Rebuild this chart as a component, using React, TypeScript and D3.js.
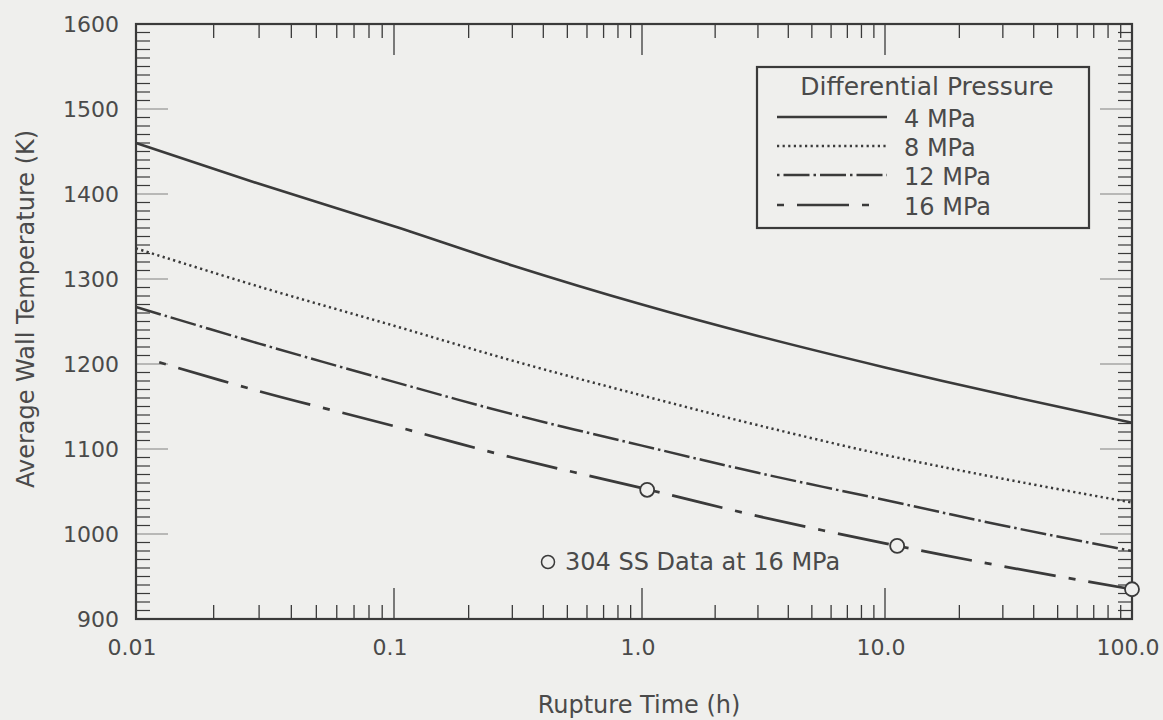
import React from "react";
import * as d3 from "d3";

const W = 1163;
const H = 720;

// Rupture time (h) sample points and temperatures (K) per differential pressure
const times = [0.01, 0.03, 0.1, 0.3, 1, 3, 10, 30, 100];
const temp4MPa = [1460, 1412, 1362, 1316, 1270, 1233, 1196, 1164, 1131];
const temp8MPa = [1336, 1291, 1245, 1204, 1163, 1128, 1093, 1065, 1037];
const temp12MPa = [1267, 1224, 1179, 1141, 1104, 1072, 1040, 1010, 980];
const times16 = [0.0123, 0.03, 0.1, 0.3, 1, 3, 10, 30, 100];
const temp16MPa = [1202, 1168, 1127, 1090, 1054, 1021, 989, 962, 935];

// 304 SS data at 16 MPa
const dataTimes = [1.05, 11.2, 100];
const dataTemps = [1052, 986, 935];

const xMajorTicks = [0.01, 0.1, 1, 10, 100];
const xTickLabels = ["0.01", "0.1", "1.0", "10.0", "100.0"];
const yMajorTicks = [900, 1000, 1100, 1200, 1300, 1400, 1500, 1600];

const seriesNames = ["4 MPa", "8 MPa", "12 MPa", "16 MPa"];

const BG = "#efefed";
const INK = "#3a3a3a";
const TXT = "#4a4a4a";
const FONT = "'DejaVu Sans', sans-serif";

const left = 136, right = 1132, top = 24, bottom = 619;

const x = d3.scaleLog()
  .domain(xMajorTicks)
  .range([136, 394, 642, 885, 1132]);
const y = d3.scaleLinear().domain([900, 1600]).range([bottom, top]);

const styles = [
  { dash: undefined as string | undefined, width: 2.6, offset: 0 },
  { dash: "2.2,3.4", width: 2.5, offset: 0 },
  { dash: "26,4,2.5,4", width: 2.5, offset: 0 },
  { dash: "52,13,7,13", width: 2.7, offset: 65 },
];

const minorX: number[] = [];
for (let e = -2; e < 2; e++) {
  for (let m = 2; m <= 9; m++) minorX.push(m * Math.pow(10, e));
}
const minorY = d3.range(910, 1600, 10).filter((v) => v % 100 !== 0);

export default function App() {
  const line = d3
    .line<[number, number]>()
    .x((d) => x(d[0]))
    .y((d) => y(d[1]))
    .curve(d3.curveCatmullRom.alpha(0.5));

  const series = [
    times.map((t, i) => [t, temp4MPa[i]] as [number, number]),
    times.map((t, i) => [t, temp8MPa[i]] as [number, number]),
    times.map((t, i) => [t, temp12MPa[i]] as [number, number]),
    times16.map((t, i) => [t, temp16MPa[i]] as [number, number]),
  ];

  const legX = 757, legY = 67, legW = 332, legH = 161;
  const rowY = [117, 146, 175, 205];

  return (
    <div style={{ position: "absolute", left: 0, top: 0 }}>
      <svg width={W} height={H} style={{ display: "block", background: BG }}>
        <rect x={0} y={0} width={W} height={H} fill={BG} />

        {/* minor y ticks left & right */}
        {minorY.map((v) => (
          <g key={"my" + v} stroke={INK} strokeWidth={1.2}>
            <line x1={left} x2={left + 14} y1={y(v)} y2={y(v)} />
            <line x1={right} x2={right - 14} y1={y(v)} y2={y(v)} />
          </g>
        ))}
        {yMajorTicks.slice(1, -1).map((v) => (
          <g key={"My" + v} stroke={INK} strokeWidth={1} opacity={0.6}>
            <line x1={left} x2={left + 32} y1={y(v)} y2={y(v)} />
            <line x1={right} x2={right - 32} y1={y(v)} y2={y(v)} />
          </g>
        ))}

        {/* x ticks bottom & top */}
        {minorX.map((v) => (
          <g key={"mx" + v} stroke={INK} strokeWidth={1.3}>
            <line x1={x(v)} x2={x(v)} y1={bottom} y2={bottom - 14} />
            <line x1={x(v)} x2={x(v)} y1={top} y2={top + 14} />
          </g>
        ))}
        {xMajorTicks.slice(1, -1).map((v) => (
          <g key={"Mx" + v} stroke={INK} strokeWidth={1.3}>
            <line x1={x(v)} x2={x(v)} y1={bottom} y2={bottom - 31} />
            <line x1={x(v)} x2={x(v)} y1={top} y2={top + 31} />
          </g>
        ))}

        {/* frame */}
        <rect x={left} y={top} width={right - left} height={bottom - top}
          fill="none" stroke={INK} strokeWidth={2.2} />

        {/* y tick labels */}
        {yMajorTicks.map((v) => (
          <text key={"yl" + v} x={119} y={y(v)} dy="0.36em" textAnchor="end"
            fontFamily={FONT} fontSize={22} fill={TXT}>{v}</text>
        ))}

        {/* x tick labels */}
        {xMajorTicks.map((v, i) => (
          <text key={"xl" + v} x={x(v) - 4} y={655} textAnchor="middle"
            fontFamily={FONT} fontSize={22} fill={TXT}>{xTickLabels[i]}</text>
        ))}

        {/* axis titles */}
        <text x={639} y={713} textAnchor="middle" fontFamily={FONT} fontSize={24} fill={TXT}>
          Rupture Time (h)
        </text>
        <text transform="translate(34,309) rotate(-90)" textAnchor="middle"
          fontFamily={FONT} fontSize={24} fill={TXT}>
          Average Wall Temperature (K)
        </text>

        {/* curves */}
        {series.map((s, i) => (
          <path key={"s" + i} d={line(s) || ""} fill="none" stroke={INK}
            strokeWidth={styles[i].width} strokeDasharray={styles[i].dash}
            strokeDashoffset={styles[i].offset} />
        ))}

        {/* data points */}
        {dataTimes.map((t, i) => (
          <circle key={"d" + i} cx={x(t)} cy={y(dataTemps[i])} r={7}
            fill={BG} stroke={INK} strokeWidth={1.8} />
        ))}

        {/* annotation */}
        <circle cx={548} cy={562} r={6.5} fill="none" stroke={INK} strokeWidth={1.5} />
        <text x={565} y={570} fontFamily={FONT} fontSize={24} fill={TXT}>
          304 SS Data at 16 MPa
        </text>

        {/* legend */}
        <rect x={legX} y={legY} width={legW} height={legH} fill={BG}
          stroke={INK} strokeWidth={2.2} />
        <text x={927} y={95} textAnchor="middle" fontFamily={FONT} fontSize={25} fill={TXT}>
          Differential Pressure
        </text>
        {seriesNames.map((n, i) => (
          <g key={"lg" + i}>
            <line x1={777} x2={i === 3 ? 875 : 887} y1={rowY[i]} y2={rowY[i]}
              stroke={INK} strokeWidth={styles[i].width}
              strokeDasharray={styles[i].dash}
              strokeDashoffset={i === 2 ? 30 : styles[i].offset} />
            <text x={904} y={rowY[i] + 10} fontFamily={FONT} fontSize={24} fill={TXT}>{n}</text>
          </g>
        ))}
      </svg>
    </div>
  );
}
